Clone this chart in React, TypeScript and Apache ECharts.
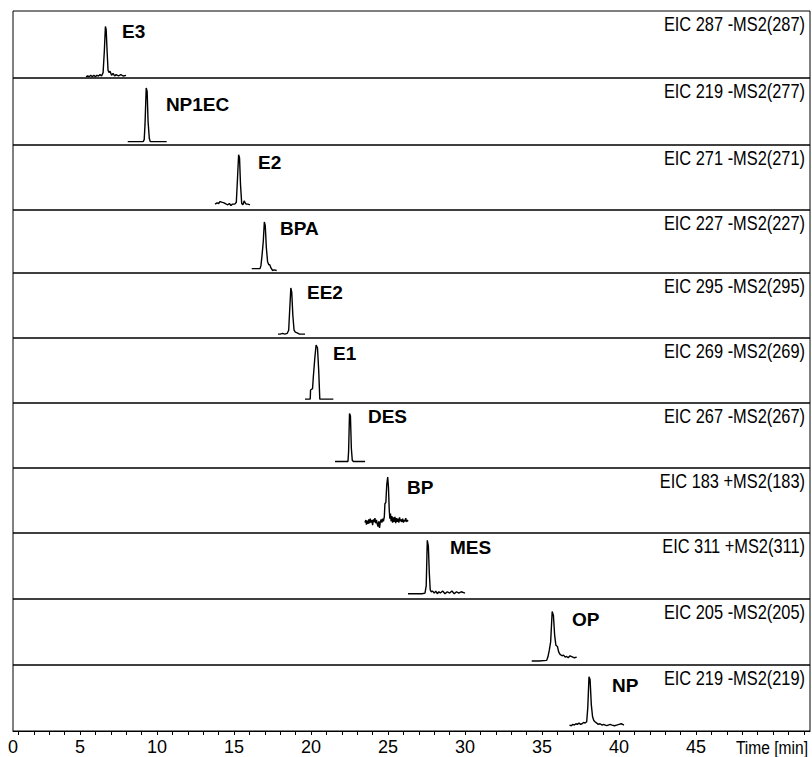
import React, { useEffect, useRef } from "react";
import * as echarts from "echarts";

// ---------- data ----------
const compounds = ["E3", "NP1EC", "E2", "BPA", "EE2", "E1", "DES", "BP", "MES", "OP", "NP"];

const eicLabels = [
  "EIC 287 -MS2(287)",
  "EIC 219 -MS2(277)",
  "EIC 271 -MS2(271)",
  "EIC 227 -MS2(227)",
  "EIC 295 -MS2(295)",
  "EIC 269 -MS2(269)",
  "EIC 267 -MS2(267)",
  "EIC 183 +MS2(183)",
  "EIC 311 +MS2(311)",
  "EIC 205 -MS2(205)",
  "EIC 219 -MS2(219)",
];

// [time (min), relative intensity (0-100 of panel)]
const e3Trace = [
  [5.39, 2], [5.5, 3], [5.6, 2], [5.7, 4], [5.8, 2], [5.9, 4], [6.0, 2], [6.1, 4], [6.2, 3], [6.3, 5],
  [6.4, 3], [6.5, 8], [6.58, 40], [6.65, 77], [6.7, 72], [6.76, 40], [6.82, 12], [6.88, 8], [6.95, 10],
  [7.05, 4], [7.15, 7], [7.25, 3], [7.35, 5], [7.5, 3], [7.65, 5], [7.8, 3], [7.99, 4],
];
const np1ecTrace = [
  [8.1, 5], [8.6, 5], [9.1, 5], [9.17, 8], [9.22, 30], [9.3, 85], [9.36, 80], [9.42, 35], [9.5, 10],
  [9.56, 5], [10.1, 5], [10.63, 5],
];
const e2Trace = [
  [13.77, 9], [13.9, 11], [14.0, 10], [14.1, 13], [14.2, 12], [14.35, 11], [14.5, 9], [14.6, 8], [14.7, 10],
  [14.8, 7], [14.9, 9], [15.05, 9], [15.15, 12], [15.22, 45], [15.3, 85], [15.36, 80], [15.42, 40],
  [15.5, 10], [15.58, 8], [15.66, 14], [15.72, 11], [15.8, 9], [15.9, 9], [16.04, 8],
];
const bpaTrace = [
  [16.15, 7], [16.4, 7], [16.69, 7], [16.75, 12], [16.82, 28], [16.9, 50], [16.97, 81], [17.03, 75],
  [17.1, 40], [17.18, 18], [17.26, 13], [17.32, 13], [17.4, 8], [17.5, 4], [17.6, 5], [17.77, 4],
];
const ee2Trace = [
  [17.86, 6], [18.0, 6], [18.15, 7], [18.3, 6], [18.45, 7], [18.55, 12], [18.62, 45], [18.69, 77],
  [18.75, 70], [18.82, 35], [18.9, 12], [18.98, 9], [19.1, 8], [19.25, 6], [19.4, 6], [19.61, 6],
];
const e1Trace = [
  [19.61, 6], [19.8, 6], [19.95, 6], [19.97, 20], [20.1, 22], [20.15, 40], [20.25, 70], [20.33, 89],
  [20.42, 85], [20.5, 50], [20.57, 6], [20.8, 6], [21.1, 6], [21.45, 6],
];
const desTrace = [
  [21.56, 10], [22.0, 10], [22.4, 10], [22.44, 25], [22.5, 84], [22.56, 80], [22.62, 30], [22.68, 12],
  [22.75, 10], [23.1, 10], [23.51, 10],
];
const bpTrace = [
  [23.5, 16], [23.56, 20], [23.6, 13], [23.65, 19], [23.7, 14], [23.75, 21], [23.8, 15], [23.85, 22],
  [23.9, 16], [23.95, 20], [24.0, 12], [24.05, 21], [24.1, 17], [24.15, 23], [24.2, 15], [24.25, 20],
  [24.3, 14], [24.35, 10], [24.4, 18], [24.45, 8], [24.5, 17], [24.55, 21], [24.6, 16], [24.65, 22],
  [24.7, 18], [24.76, 25], [24.8, 45], [24.86, 47], [24.92, 75], [24.98, 86], [25.03, 70], [25.08, 35],
  [25.12, 22], [25.16, 30], [25.2, 18], [25.25, 26], [25.3, 16], [25.35, 24], [25.4, 17], [25.45, 25],
  [25.5, 15], [25.55, 23], [25.6, 17], [25.65, 22], [25.7, 16], [25.75, 24], [25.8, 18], [25.85, 21],
  [25.9, 17], [25.95, 22], [26.0, 16], [26.05, 20], [26.1, 18], [26.15, 23], [26.2, 17], [26.25, 20],
  [26.3, 18],
];
const mesTrace = [
  [26.3, 8], [26.6, 8], [26.9, 8], [27.2, 8], [27.4, 9], [27.48, 20], [27.55, 89], [27.62, 80],
  [27.68, 40], [27.74, 14], [27.8, 11], [27.9, 12], [28.0, 9], [28.1, 12], [28.2, 8], [28.3, 11],
  [28.4, 9], [28.55, 12], [28.7, 8], [28.85, 11], [29.0, 9], [29.15, 12], [29.3, 8], [29.45, 11],
  [29.6, 9], [29.75, 11], [30.0, 9],
];
const opTrace = [
  [34.33, 6], [34.8, 6], [35.3, 7], [35.38, 12], [35.47, 22], [35.56, 35], [35.66, 81], [35.74, 75],
  [35.82, 45], [35.9, 30], [36.0, 28], [36.08, 20], [36.17, 16], [36.3, 14], [36.4, 15], [36.5, 12],
  [36.6, 13], [36.7, 11], [36.82, 14], [37.0, 12], [37.1, 11], [37.25, 12],
];
const npTrace = [
  [36.78, 9], [36.9, 8], [37.0, 10], [37.1, 9], [37.2, 11], [37.3, 10], [37.4, 12], [37.5, 10],
  [37.6, 11], [37.7, 13], [37.8, 12], [37.9, 14], [37.97, 35], [38.05, 82], [38.12, 78], [38.2, 40],
  [38.28, 22], [38.36, 16], [38.44, 14], [38.55, 12], [38.65, 10], [38.77, 11], [38.9, 9], [39.0, 10],
  [39.1, 9], [39.2, 8], [39.3, 9], [39.42, 10], [39.55, 9], [39.7, 8], [39.85, 9], [40.0, 10],
  [40.15, 11], [40.32, 9],
];

const traces = [e3Trace, np1ecTrace, e2Trace, bpaTrace, ee2Trace, e1Trace, desTrace, bpTrace, mesTrace, opTrace, npTrace];

// compound label anchors (time, intensity) = top-left of the label
const labelAnchors = [
  [7.73, 83], [10.58, 75], [16.56, 87], [17.99, 86], [19.74, 84], [21.43, 91],
  [23.7, 94], [26.23, 85], [29.03, 92], [36.95, 84], [39.55, 83],
];

const xTickLabels = [0, 5, 10, 15, 20, 25, 30, 35, 40, 45];
const xMinorTicks = [
  1, 2, 3, 4, 5, 6, 7, 8, 9, 10, 11, 12, 13, 14, 15, 16, 17, 18, 19, 20, 21, 22, 23, 24, 25, 26,
  27, 28, 29, 30, 31, 32, 33, 34, 35, 36, 37, 38, 39, 40, 41, 42, 43, 44, 45, 46, 47, 48, 49, 50, 51, 52,
];

// ---------- layout ----------
const XMIN = 0.65;
const XMAX = 52.4;
const panelTops = [11, 78, 145, 210, 273, 338, 403, 468, 533, 599, 665, 731];
const LEFT = 13;
const WIDTH = 797;
const SANS = "'Liberation Sans', Arial, sans-serif";

function buildOption() {
  const n = compounds.length;
  const labelVals = xTickLabels.map((v) => (v === 0 ? XMIN : v));
  return {
    animation: false,
    backgroundColor: "#fff",
    grid: compounds.map((_, i) => ({
      left: LEFT,
      width: WIDTH,
      top: panelTops[i],
      height: panelTops[i + 1] - panelTops[i],
      show: true,
      borderColor: "#000",
      borderWidth: 1,
      backgroundColor: "transparent",
    })),
    xAxis: compounds.map((_, i) => ({
      type: "value",
      gridIndex: i,
      min: XMIN,
      max: XMAX,
      show: i === n - 1,
      splitLine: { show: false },
      axisLine: { show: true, lineStyle: { color: "#000", width: 1 } },
      axisTick: {
        show: true,
        length: 4,
        customValues: xMinorTicks,
        lineStyle: { color: "#000", width: 1 },
      },
      axisLabel: {
        show: true,
        customValues: labelVals,
        formatter: (v: number) => (v === XMIN ? "0" : String(Math.round(v))),
        margin: 7,
        color: "#000",
        fontFamily: SANS,
        fontSize: 18,
      },
    })),
    yAxis: compounds.map((_, i) => ({
      type: "value",
      gridIndex: i,
      min: 0,
      max: 100,
      show: false,
      splitLine: { show: false },
    })),
    series: traces.map((data, i) => ({
      type: "line",
      name: compounds[i],
      xAxisIndex: i,
      yAxisIndex: i,
      data,
      showSymbol: false,
      symbol: "none",
      silent: true,
      lineStyle: { color: "#000", width: 1.4 },
      markPoint: {
        silent: true,
        symbol: "rect",
        symbolSize: 0.1,
        itemStyle: { color: "transparent" },
        label: {
          show: true,
          position: [0, 0],
          align: "left",
          verticalAlign: "top",
          formatter: compounds[i],
          color: "#000",
          fontFamily: SANS,
          fontWeight: "bold",
          fontSize: 19,
        },
        data: [{ coord: labelAnchors[i], name: compounds[i] }],
      },
    })),
    graphic: [
      ...eicLabels.map((t, i) => ({
        type: "text",
        x: 805,
        y: panelTops[i] + 3,
        scaleX: 0.82,
        silent: true,
        style: {
          text: t,
          align: "right",
          verticalAlign: "top",
          fontFamily: SANS,
          fontSize: 20,
          fill: "#000",
        },
      })),
      {
        type: "text",
        x: 808,
        y: panelTops[n] + 7,
        scaleX: 0.82,
        silent: true,
        style: {
          text: "Time [min]",
          align: "right",
          verticalAlign: "top",
          fontFamily: SANS,
          fontSize: 19,
          fill: "#000",
        },
      },
    ],
  };
}

export default function App() {
  const ref = useRef<HTMLDivElement>(null);
  useEffect(() => {
    if (!ref.current) return;
    const chart = echarts.init(ref.current, null, { renderer: "svg" });
    chart.setOption(buildOption() as any);
    return () => chart.dispose();
  }, []);
  return (
    <div
      ref={ref}
      style={{ position: "fixed", left: 0, top: 0, width: 812, height: 757, background: "#fff" }}
    />
  );
}
